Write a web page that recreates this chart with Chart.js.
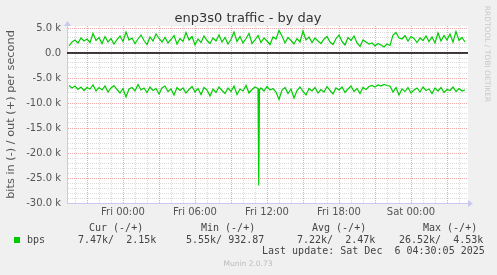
<!DOCTYPE html>
<html>
<head>
<meta charset="utf-8">
<script src="https://cdn.jsdelivr.net/npm/chart.js@4"></script>
<style>
  html, body { margin: 0; padding: 0; background: #f0f0f0; }
  canvas { display: block; }
</style>
</head>
<body>
<canvas id="chart" width="497" height="275"></canvas>
<script>
// Hours relative to Fri 00:00, one sample every 15 minutes. Values in kbit/s.
const startHour = -4.5
const stepHour = 0.25
const axisStart = -4.667
const axisEnd = 28.75

const outBps = [
  1.4, 2.2, 2.6, 2.0, 3.0, 2.4, 2.8, 2.1, 3.9, 2.5, 3.1,
  1.9, 3.3, 2.2, 2.9, 1.8, 2.7, 3.4, 2.3, 4.2, 2.6,
  3.0, 1.9, 2.8, 3.6, 2.5, 1.7, 3.2, 2.4, 3.8, 2.9,
  2.2, 3.1, 2.0, 2.7, 3.5, 1.8, 2.9, 2.3, 4.1, 2.6,
  3.3, 1.6, 2.8, 2.1, 3.4, 2.5, 1.9, 3.0, 2.4, 3.6,
  2.2, 3.1, 1.8, 2.7, 4.2, 2.3, 3.3, 2.0, 2.9, 3.9,
  1.9, 2.6, 3.5, 2.1, 3.0, 2.4, 1.7, 3.2, 2.8, 4.5,
  3.4, 2.0, 3.1, 2.5, 1.8, 2.9, 2.2, 4.4, 2.6, 3.2,
  2.1, 3.0, 2.4, 1.9, 2.8, 3.3, 2.2, 1.7, 2.9, 3.6,
  2.3, 1.6, 3.1, 2.5, 3.4, 2.0, 1.3, 2.6, 2.2, 1.8,
  2.0, 1.4, 1.9, 1.6, 1.2, 1.8, 1.5, 3.6, 4.1, 3.0,
  2.8, 3.5, 2.4, 3.3, 2.9, 2.1, 3.0, 2.5, 3.4, 2.3,
  3.2, 2.0, 4.0, 2.4, 3.5, 2.6, 3.8, 2.2, 4.3, 2.5, 3.1, 2.2
]

const inBps = [
  -6.5, -7.0, -6.6, -7.3, -6.8, -7.5, -6.9, -7.2, -6.4, -7.6, -6.9,
  -7.4, -6.6, -7.8, -7.0, -6.5, -7.3, -8.0, -7.1, -8.8, -7.2,
  -6.9, -7.6, -6.3, -7.4, -7.0, -7.9, -6.8, -7.5, -7.1, -8.2,
  -7.0, -6.6, -7.7, -7.2, -8.4, -6.9, -7.5, -7.0, -8.0, -7.3,
  -6.7, -7.8, -7.1, -8.3, -6.9, -7.4, -8.6, -7.2, -7.9, -6.8,
  -7.5, -8.1, -7.0, -7.7, -6.6, -8.3, -7.2, -7.6, -6.5, -8.0,
  -7.3, -6.8, -7.1, -7.0, -7.6, -6.7, -7.4, -7.1, -7.8, -9.3,
  -7.4, -6.9, -8.1, -7.2, -9.0, -7.5, -6.8, -7.7, -8.4, -7.1,
  -7.6, -6.9, -8.0, -7.3, -7.8, -6.7, -7.5, -8.2, -7.0, -7.4,
  -6.8, -7.9, -7.2, -6.6, -7.7, -7.1, -8.1, -6.9, -7.3, -6.7,
  -6.5, -6.8, -6.4, -6.6, -6.3, -6.5, -6.6, -7.8, -6.9, -8.4,
  -7.2, -7.7, -6.9, -8.0, -7.4, -7.0, -7.8, -6.8, -7.5, -7.2,
  -8.1, -7.0, -7.6, -6.9, -7.9, -7.3, -7.5, -6.8, -7.7, -7.1, -7.6, -7.4
]

// short drop on the inbound side, Fri ~11:20
const spikeHours = [11.29, 11.33, 11.375]
const spikeIn = [-7.2, -26.5, -7.4]

const dayLabels = { 0: "Fri 00:00", 6: "Fri 06:00", 12: "Fri 12:00", 18: "Fri 18:00", 24: "Sat 00:00" }
const legendHeaders = ["Cur (-/+)", "Min (-/+)", "Avg (-/+)", "Max (-/+)"]
const legendValues = ["7.47k/  2.15k", "5.55k/ 932.87", "7.22k/  2.47k", "26.52k/  4.53k"]
const lastUpdate = "Last update: Sat Dec  6 04:30:05 2025"

const MINOR = "rgba(190,190,190,0.55)"
const MAJOR = "rgba(225,110,110,0.6)"
const AXIS = "#c8c8f0"
const GREEN = "#00cc00"

const outPoints = outBps.map((v, i) => ({ x: startHour + i * stepHour, y: v }))
const inPoints = inBps.map((v, i) => ({ x: startHour + i * stepHour, y: v }))
  .concat(spikeHours.map((h, i) => ({ x: h, y: spikeIn[i] })))
  .sort((a, b) => a.x - b.x)

const muninText = {
  id: "muninText",
  beforeDraw(chart) {
    const { ctx, chartArea: a } = chart
    ctx.save()
    ctx.fillStyle = "#ffffff"
    ctx.fillRect(a.left, a.top, a.right - a.left, a.bottom - a.top)
    ctx.restore()
  },
  afterDraw(chart) {
    const { ctx, chartArea: a } = chart
    ctx.save()

    // axis arrows
    ctx.fillStyle = AXIS
    ctx.beginPath()
    ctx.moveTo(a.left - 3, a.top)
    ctx.lineTo(a.left + 4, a.top)
    ctx.lineTo(a.left + 0.5, a.top - 5)
    ctx.fill()
    ctx.beginPath()
    ctx.moveTo(a.right, a.bottom - 3)
    ctx.lineTo(a.right, a.bottom + 4)
    ctx.lineTo(a.right + 5, a.bottom + 0.5)
    ctx.fill()

    ctx.textBaseline = "middle"
    ctx.textAlign = "center"
    ctx.fillStyle = "#333"
    ctx.font = "13px 'DejaVu Sans'"
    ctx.fillText("enp3s0 traffic - by day", 248, 19)

    ctx.fillStyle = "#bbb"
    ctx.font = "7.5px 'DejaVu Sans'"
    ctx.fillText("Munin 2.0.73", 248, 264)

    ctx.save()
    ctx.translate(487, 54)
    ctx.rotate(Math.PI / 2)
    ctx.fillStyle = "#c8c8c8"
    ctx.fillText("RRDTOOL / TOBI OETIKER", 0, 0)
    ctx.restore()

    // legend block
    ctx.textAlign = "left"
    ctx.fillStyle = "#444"
    ctx.font = "10px 'DejaVu Sans Mono'"
    const headerX = [89, 201, 312, 423]
    const valueX = [78, 186, 297, 399]
    legendHeaders.forEach((t, i) => ctx.fillText(t, headerX[i], 228))
    legendValues.forEach((t, i) => ctx.fillText(t, valueX[i], 240))
    ctx.fillText("bps", 27, 240)
    ctx.fillText(lastUpdate, 262, 251)
    ctx.fillStyle = GREEN
    ctx.fillRect(14, 237, 6, 6)

    ctx.restore()
  }
}

const isInt = v => Math.abs(v - Math.round(v)) < 1e-6

new Chart(document.getElementById("chart"), {
  type: "line",
  data: {
    datasets: [
      { data: [{ x: axisStart, y: 0 }, { x: axisEnd, y: 0 }], borderColor: "#000", borderWidth: 1.5, pointRadius: 0 },
      { data: outPoints, borderColor: GREEN, borderWidth: 1.2, pointRadius: 0, tension: 0 },
      { data: inPoints, borderColor: GREEN, borderWidth: 1.2, pointRadius: 0, tension: 0 }
    ]
  },
  options: {
    responsive: false,
    animation: false,
    devicePixelRatio: 1,
    layout: { padding: { left: 0, right: 29, top: 26, bottom: 0 } },
    plugins: { legend: { display: false }, tooltip: { enabled: false } },
    scales: {
      x: {
        type: "linear",
        min: axisStart,
        max: axisEnd,
        afterFit: s => { s.height = 72 },
        ticks: {
          stepSize: 1,
          autoSkip: false,
          includeBounds: false,
          maxRotation: 0,
          padding: 3,
          color: "#555",
          font: { family: "DejaVu Sans", size: 10 },
          callback: v => (isInt(v) && dayLabels[Math.round(v)]) || ""
        },
        grid: {
          drawTicks: false,
          color: c => {
            const v = c.tick && c.tick.value
            if (v === undefined || !isInt(v)) return "rgba(0,0,0,0)"
            return ((Math.round(v) % 3) + 3) % 3 === 0 ? MAJOR : MINOR
          }
        },
        border: { color: AXIS, dash: [1, 1] }
      },
      y: {
        min: -30,
        max: 5.4,
        afterFit: s => { s.width = 67 },
        ticks: {
          stepSize: 1,
          autoSkip: false,
          includeBounds: false,
          padding: 6,
          color: "#555",
          font: { family: "DejaVu Sans", size: 10 },
          callback: v => {
            if (!isInt(v) || Math.round(v) % 5 !== 0) return ""
            return Math.round(v) === 0 ? "0.0" : v.toFixed(1) + " k"
          }
        },
        grid: {
          drawTicks: false,
          color: c => {
            const v = c.tick && c.tick.value
            if (v === undefined || !isInt(v)) return "rgba(0,0,0,0)"
            return Math.round(v) % 5 === 0 ? MAJOR : MINOR
          }
        },
        border: { color: AXIS, dash: [1, 1] },
        title: {
          display: true,
          text: "bits in (-) / out (+) per second",
          color: "#555",
          font: { family: "DejaVu Sans", size: 11.3 },
          padding: { top: 4.5, bottom: 0 }
        }
      }
    }
  },
  plugins: [muninText]
})
</script>
</body>
</html>
